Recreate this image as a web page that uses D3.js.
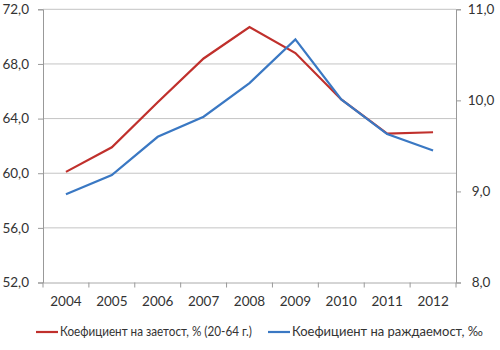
<!DOCTYPE html>
<html><head><meta charset="utf-8">
<script src="https://cdn.jsdelivr.net/npm/d3@7"></script>
<style>body{margin:0;background:#fff}svg{display:block}text{font-family:Lato,"Open Sans",sans-serif;fill:#333}</style>
</head><body><svg id="c" width="500" height="350"></svg>
<script>
const years = ["2004","2005","2006","2007","2008","2009","2010","2011","2012"];
const employment = [60.1, 61.9, 65.2, 68.4, 70.7, 68.8, 65.4, 62.9, 63.0];
const birthRate = [8.97, 9.18, 9.6, 9.82, 10.19, 10.67, 10.01, 9.63, 9.45];
const leftTicks = [52, 56, 60, 64, 68, 72];
const rightTicks = [8, 9, 10, 11];
const seriesNames = ["Коефициент на заетост, % (20-64 г.)", "Коефициент на раждаемост, ‰"];

const svg = d3.select("#c");
const L = 43, R = 456, T = 9.3, B = 282.5;
const fmt = v => v.toFixed(1).replace(".", ",");
const x = d3.scaleBand().domain(years).range([L, R]);
const yL = d3.scaleLinear().domain([52, 72]).range([B, T]);
const yR = d3.scaleLinear().domain([8, 11]).range([B, T]);

// gridlines
svg.append("g").selectAll("line").data(leftTicks.slice(1)).join("line")
  .attr("x1", L).attr("x2", R).attr("y1", d => yL(d)).attr("y2", d => yL(d))
  .attr("stroke", "#c4c4c4").attr("stroke-width", 1);

// left axis
const gl = svg.append("g").attr("transform", `translate(${L},0)`)
  .call(d3.axisLeft(yL).tickValues(leftTicks).tickFormat(fmt).tickSize(5).tickPadding(9));
// right axis
const gr = svg.append("g").attr("transform", `translate(${R},0)`)
  .call(d3.axisRight(yR).tickValues(rightTicks).tickFormat(fmt).tickSize(5).tickPadding(20));
gr.selectAll("text").attr("text-anchor", "middle");
// bottom axis
const gb = svg.append("g").attr("transform", `translate(0,${B})`)
  .call(d3.axisBottom(x).tickSize(0).tickPadding(14));
gb.append("g").selectAll("line").data(d3.range(years.length + 1)).join("line")
  .attr("x1", i => L + i * x.step()).attr("x2", i => L + i * x.step())
  .attr("y1", 0).attr("y2", 5).attr("stroke", "#999");

[gl, gr, gb].forEach(g => {
  g.select(".domain").attr("stroke", "#999");
  g.selectAll(".tick line").attr("stroke", "#999");
  g.selectAll("text").attr("font-size", 13.5).attr("fill", "#333")
    .attr("font-family", "Lato,'Open Sans',sans-serif");
});
gb.select(".domain").attr("stroke", "#aaa");

const cx = d => x(d) + x.bandwidth() / 2;
const colors = ["#c0302c", "#3a78c3"];
svg.append("path").datum(employment)
  .attr("d", d3.line().x((d, i) => cx(years[i])).y(d => yL(d)))
  .attr("fill", "none").attr("stroke", colors[0]).attr("stroke-width", 2.2);
svg.append("path").datum(birthRate)
  .attr("d", d3.line().x((d, i) => cx(years[i])).y(d => yR(d)))
  .attr("fill", "none").attr("stroke", colors[1]).attr("stroke-width", 2.2);

// legend
const lg = svg.append("g").attr("transform", "translate(0,332)");
const lx = [36, 268];
const lw = [192, 191];
seriesNames.forEach((n, i) => {
  lg.append("line").attr("x1", lx[i]).attr("x2", lx[i] + 22).attr("y1", 0).attr("y2", 0)
    .attr("stroke", colors[i]).attr("stroke-width", 2.2);
  lg.append("text").attr("x", lx[i] + 24).attr("y", 0).attr("dy", "0.35em")
    .attr("font-size", 12.5).attr("textLength", lw[i]).attr("lengthAdjust", "spacingAndGlyphs").text(n);
});
</script></body></html>
